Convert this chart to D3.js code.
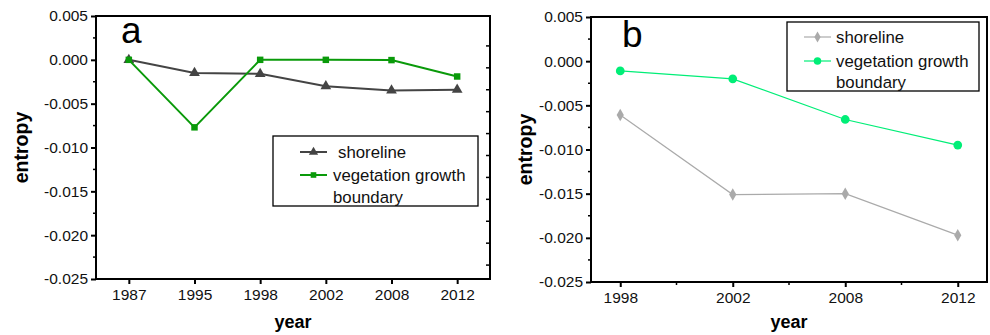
<!DOCTYPE html>
<html>
<head>
<meta charset="utf-8">
<script src="https://cdn.jsdelivr.net/npm/d3@7"></script>
<style>
  body { margin: 0; background: #fff; }
  svg text { font-family: "Liberation Sans", Arial, sans-serif; }
</style>
</head>
<body>
<div id="chart"></div>
<script>
// panel a
var yearsA = ["1987", "1995", "1998", "2002", "2008", "2012"];
var shoreA = [0.0, -0.0015, -0.0016, -0.0030, -0.0035, -0.0034];
var vegA = [0.0, -0.0077, 0.0, 0.0, -0.00003, -0.0019];

// panel b
var yearsB = ["1998", "2002", "2008", "2012"];
var shoreB = [-0.0061, -0.0151, -0.0150, -0.0197];
var vegB = [-0.0011, -0.0020, -0.0066, -0.0095];

var yTicks = [0.005, 0.0, -0.005, -0.010, -0.015, -0.020, -0.025];
var seriesNames = ["shoreline", "vegetation growth", "boundary"];

var svg = d3.select("#chart")
    .append("svg")
    .attr("width", 990)
    .attr("height", 335);

function drawPanel(opt) {
    var g = svg.append("g");
    var x = d3.scalePoint().domain(opt.years).range([opt.left, opt.right]).padding(opt.pad);
    var y = d3.scaleLinear().domain([-0.025, 0.005]).range([opt.bottom, opt.top]);

    // minor ticks on left axis
    var minor = d3.range(-0.0225, 0.005, 0.005);
    g.selectAll(".yminor").data(minor).enter().append("line")
        .attr("x1", opt.left - 3).attr("x2", opt.left)
        .attr("y1", function (d) { return y(d); }).attr("y2", function (d) { return y(d); })
        .attr("stroke", "#000").attr("stroke-width", 1.5);

    var yAxis = g.append("g")
        .attr("transform", "translate(" + opt.left + ",0)")
        .call(d3.axisLeft(y).tickValues(yTicks).tickSize(5).tickPadding(3)
            .tickFormat(function (d) { return d3.format(".3f")(d).replace("−", "-"); }));
    yAxis.select(".domain").remove();
    yAxis.selectAll("line").attr("stroke-width", 2);
    yAxis.selectAll("text").attr("font-size", 15.5).attr("fill", "#111");

    var xAxis = g.append("g")
        .attr("transform", "translate(0," + opt.bottom + ")")
        .call(d3.axisBottom(x).tickSize(5).tickPadding(5));
    xAxis.select(".domain").remove();
    xAxis.selectAll("line").attr("stroke-width", 2);
    xAxis.selectAll("text").attr("font-size", 15.5).attr("fill", "#111");

    if (opt.xMinor) {
        var mids = d3.pairs(opt.years).map(function (p) { return (x(p[0]) + x(p[1])) / 2; });
        g.selectAll(".xminor").data(mids).enter().append("line")
            .attr("x1", function (d) { return d; }).attr("x2", function (d) { return d; })
            .attr("y1", opt.bottom).attr("y2", opt.bottom + 3)
            .attr("stroke", "#000").attr("stroke-width", 1.5);
    }

    if (opt.rightTicks) {
        g.selectAll(".rtick").data(d3.range(-0.0225, 0.005, 0.0025)).enter().append("line")
            .attr("x1", opt.right - 4).attr("x2", opt.right)
            .attr("y1", function (d) { return y(d) + 8; }).attr("y2", function (d) { return y(d) + 8; })
            .attr("stroke", "#000").attr("stroke-width", 1.5);
    }

    // frame
    g.append("rect")
        .attr("x", opt.left).attr("y", opt.top)
        .attr("width", opt.right - opt.left).attr("height", opt.bottom - opt.top)
        .attr("fill", "none").attr("stroke", "#000").attr("stroke-width", 2);

    // axis titles
    g.append("text")
        .attr("x", (opt.left + opt.right) / 2).attr("y", 328)
        .attr("text-anchor", "middle").attr("font-size", 18).attr("font-weight", "bold")
        .text("year");
    g.append("text")
        .attr("transform", "translate(" + opt.ylabX + "," + ((opt.top + opt.bottom) / 2) + ") rotate(-90)")
        .attr("text-anchor", "middle").attr("font-size", 19.5).attr("font-weight", "bold")
        .text("entropy");

    // panel letter
    g.append("text")
        .attr("x", opt.letterX).attr("y", opt.letterY)
        .attr("font-size", 37).text(opt.letter);

    var line = d3.line()
        .x(function (d, i) { return x(opt.years[i]); })
        .y(function (d) { return y(d); });

    opt.series.forEach(function (s) {
        g.append("path").datum(s.values)
            .attr("d", line).attr("fill", "none")
            .attr("stroke", s.color).attr("stroke-width", s.width);
        g.selectAll(null).data(s.values).enter().append("path")
            .attr("transform", function (d, i) { return "translate(" + x(opt.years[i]) + "," + y(d) + ")"; })
            .attr("d", d3.symbol().type(s.symbol).size(s.size))
            .attr("fill", s.color);
    });

    // legend
    var lg = opt.legend;
    g.append("rect")
        .attr("x", lg.x).attr("y", lg.y).attr("width", lg.w).attr("height", lg.h)
        .attr("fill", "#fff").attr("stroke", "#000").attr("stroke-width", 1.3);
    opt.series.forEach(function (s, i) {
        var ry = lg.rows[i];
        g.append("line")
            .attr("x1", lg.lineX).attr("x2", lg.lineX + 27)
            .attr("y1", ry).attr("y2", ry)
            .attr("stroke", s.color).attr("stroke-width", s.width);
        g.append("path")
            .attr("transform", "translate(" + (lg.lineX + 13.5) + "," + ry + ")")
            .attr("d", d3.symbol().type(s.symbol).size(s.size * 0.75))
            .attr("fill", s.color);
    });
    g.append("text").attr("x", lg.textX + lg.firstShift).attr("y", lg.rows[0] + 6)
        .attr("font-size", 16.8).attr("fill", "#111").text(seriesNames[0]);
    g.append("text").attr("x", lg.textX).attr("y", lg.rows[1] + 6)
        .attr("font-size", 16.8).attr("fill", "#111").text(seriesNames[1]);
    g.append("text").attr("x", lg.textX).attr("y", lg.rows[2] + 6)
        .attr("font-size", 16.8).attr("fill", "#111").text(seriesNames[2]);
}

drawPanel({
    years: yearsA, left: 96, right: 490, top: 16, bottom: 279, pad: 0.5,
    xMinor: false, rightTicks: true, ylabX: 28, letter: "a", letterX: 121, letterY: 43,
    series: [
        { values: shoreA, color: "#444444", width: 2, symbol: d3.symbolTriangle, size: 50 },
        { values: vegA, color: "#0a9a0a", width: 2, symbol: d3.symbolSquare, size: 42 }
    ],
    legend: { x: 273, y: 136, w: 205, h: 70, lineX: 300, textX: 333, firstShift: 5, rows: [152, 175, 197] }
});

drawPanel({
    years: yearsB, left: 591, right: 987, top: 17, bottom: 282, pad: 0.26,
    xMinor: true, rightTicks: false, ylabX: 532, letter: "b", letterX: 622, letterY: 47,
    series: [
        { values: shoreB, color: "#aaaaaa", width: 1.2, symbol: d3.symbolDiamond, size: 45 },
        { values: vegB, color: "#00ee77", width: 1.2, symbol: d3.symbolCircle, size: 60 }
    ],
    legend: { x: 787, y: 22, w: 192, h: 69, lineX: 804, textX: 836, firstShift: 0, rows: [37, 61, 82] }
});
</script>
</body>
</html>
